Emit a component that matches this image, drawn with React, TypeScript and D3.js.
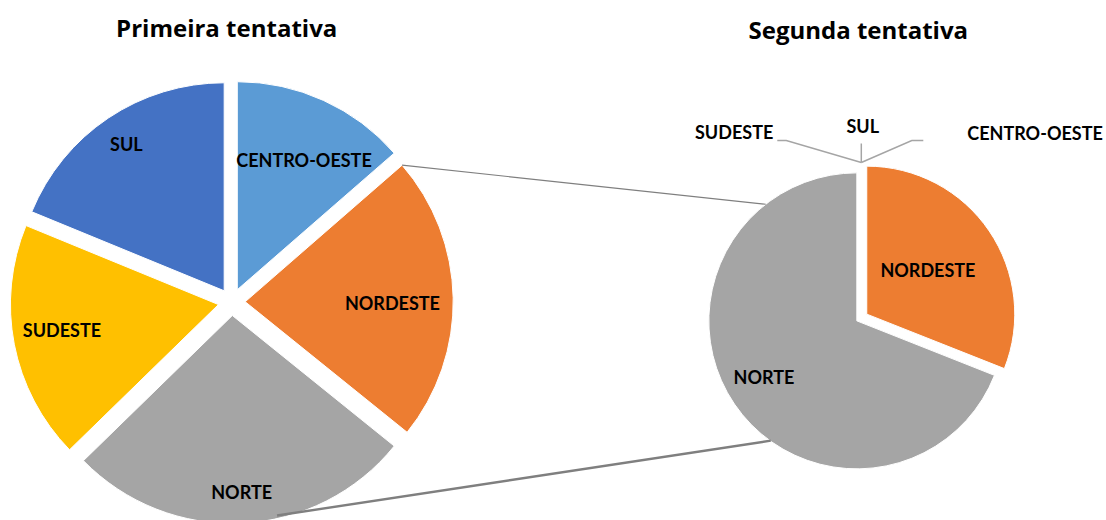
import React from 'react';
import * as d3 from 'd3';

const regions = ['CENTRO-OESTE', 'NORDESTE', 'NORTE', 'SUDESTE', 'SUL'];
const firstValues = [13.6, 22.2, 26.9, 18.5, 18.8];
const secondValues = [0, 31, 69, 0, 0];
const titles = ['Primeira tentativa', 'Segunda tentativa'];
const colors = ['#5B9BD5', '#ED7D31', '#A5A5A5', '#FFC000', '#4472C4'];

// label placement (fraction of radius, angle shift in degrees)
const firstLabelPos = [
  { f: 0.70, da: 2.8 },
  { f: 0.708, da: 1.6 },
  { f: 0.854, da: -0.3 },
  { f: 0.763, da: 1.4 },
  { f: 0.845, da: 0 },
];
const secondLabelPos = [
  null,
  { f: 0.506, da: -1 },
  { f: 0.734, da: 3 },
  null,
  null,
];

const W = 1106;
const H = 520;
const FONT = 'Lato, Calibri, Carlito, sans-serif';
const TITLE_FONT = '"Open Sans", Calibri, sans-serif';
const LABEL_SIZE = 18;
const CAP = 0.716;

const toRad = (deg: number) => (deg * Math.PI) / 180;

function Pie({ values, cx, cy, r, explode, labelPos }: any) {
  const pie = d3.pie<number>().sort(null).value((d) => d);
  const arcs = pie(values);
  const arc = d3.arc<d3.PieArcDatum<number>>().innerRadius(0).outerRadius(r);
  return (
    <g transform={`translate(${cx},${cy})`}>
      {arcs.map((a, i) => {
        if (a.value === 0) return null;
        const mid = (a.startAngle + a.endAngle) / 2;
        const ox = explode * Math.sin(mid);
        const oy = -explode * Math.cos(mid);
        return (
          <path
            key={regions[i]}
            d={arc(a) || ''}
            transform={`translate(${ox},${oy})`}
            fill={colors[i]}
            stroke="#fff"
            strokeWidth={1}
          />
        );
      })}
      {arcs.map((a, i) => {
        const lp = labelPos[i];
        if (!lp || a.value === 0) return null;
        const mid = (a.startAngle + a.endAngle) / 2;
        const ox = explode * Math.sin(mid);
        const oy = -explode * Math.cos(mid);
        const ang = mid + toRad(lp.da);
        const x = ox + lp.f * r * Math.sin(ang);
        const y = oy - lp.f * r * Math.cos(ang);
        return (
          <text
            key={'l' + regions[i]}
            x={x}
            y={y + (CAP * LABEL_SIZE) / 2}
            textAnchor="middle"
            fontFamily={FONT}
            fontWeight={700}
            fontSize={LABEL_SIZE}
            fill="#000"
          >
            {regions[i]}
          </text>
        );
      })}
    </g>
  );
}

export default function App() {
  const p1 = { cx: 231.7, cy: 302, r: 208, explode: 13.5 };
  const p2 = { cx: 861.8, cy: 317.5, r: 148, explode: 6 };

  const pie2 = d3.pie<number>().sort(null).value((d) => d)(secondValues);
  const pie1 = d3.pie<number>().sort(null).value((d) => d)(firstValues);

  const offs = (pc: any, a: d3.PieArcDatum<number>) => {
    const mid = (a.startAngle + a.endAngle) / 2;
    return [pc.explode * Math.sin(mid), -pc.explode * Math.cos(mid)];
  };
  const polar = (pc: any, a: d3.PieArcDatum<number>, angDeg: number, rr: number) => {
    const [ox, oy] = offs(pc, a);
    const t = toRad(angDeg);
    return [pc.cx + ox + rr * Math.sin(t), pc.cy + oy - rr * Math.cos(t)];
  };

  // connector lines
  const nordeste1 = pie1[1];
  const norte1 = pie1[2];
  const norte2 = pie2[2];
  const topA = polar(p1, nordeste1, (nordeste1.startAngle * 180) / Math.PI, p1.r);
  const topB = polar(p2, norte2, 322, p2.r);
  const botA = polar(p1, norte1, 167.4, 205);
  const botB = polar(p2, norte2, 215.7, 147.5);

  // zero-value labels on second pie: leader lines from the top point
  const P = [p2.cx - 0.5, p2.cy - p2.r - p2.explode - 1];
  const zeroLabels = [
    { i: 3, pts: [[-75, -22], [-84, -22]], tx: -88, ty: -30, anchor: 'end' },
    { i: 4, pts: [[0, -19]], tx: 1.5, ty: -36, anchor: 'middle' },
    { i: 0, pts: [[50.5, -22], [62, -22]], tx: 106, ty: -29, anchor: 'start' },
  ];

  return (
    <svg
      width={W}
      height={H}
      style={{ position: 'absolute', left: 0, top: 0, background: '#fff' }}
    >
      <rect width={W} height={H} fill="#fff" />
      <text
        x={226.7}
        y={36.7}
        textAnchor="middle"
        fontFamily={TITLE_FONT}
        fontWeight={700}
        fontSize={24}
      >
        {titles[0]}
      </text>
      <text
        x={858.3}
        y={39.3}
        textAnchor="middle"
        fontFamily={TITLE_FONT}
        fontWeight={700}
        fontSize={24}
      >
        {titles[1]}
      </text>

      <Pie values={firstValues} {...p1} labelPos={firstLabelPos} />
      <Pie values={secondValues} {...p2} labelPos={secondLabelPos} />

      <line x1={topA[0]} y1={topA[1]} x2={topB[0]} y2={topB[1]} stroke="#7F7F7F" strokeWidth={1.2} />
      <line x1={botA[0]} y1={botA[1]} x2={botB[0]} y2={botB[1]} stroke="#7F7F7F" strokeWidth={2.4} />

      {zeroLabels.map((z) => {
        const pts = [[0, 0], ...z.pts].map((p) => [P[0] + p[0], P[1] + p[1]]);
        return (
          <g key={'z' + regions[z.i]}>
            <polyline
              points={pts.map((p) => p.join(',')).join(' ')}
              fill="none"
              stroke="#A5A5A5"
              strokeWidth={1.5}
            />
            <text
              x={P[0] + z.tx}
              y={P[1] + z.ty + (CAP * LABEL_SIZE) / 2}
              textAnchor={z.anchor as any}
              fontFamily={FONT}
              fontWeight={700}
              fontSize={LABEL_SIZE}
            >
              {regions[z.i]}
            </text>
          </g>
        );
      })}
    </svg>
  );
}
